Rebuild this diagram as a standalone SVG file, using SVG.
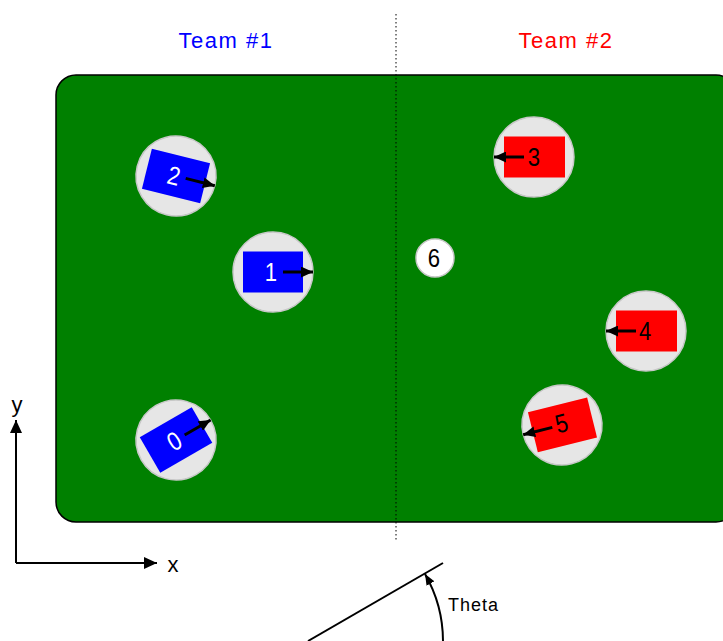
<svg xmlns="http://www.w3.org/2000/svg" width="723" height="641" viewBox="0 0 723 641">
<style>
.t{font-family:"Liberation Sans Narrow","Liberation Sans",Arial,sans-serif}
.team{font-size:22px;letter-spacing:1.5px;text-anchor:middle}
.body{fill:#e6e6e6;stroke:#c8c8c8;stroke-width:1.5}
.num{font-size:26px;text-anchor:middle;dominant-baseline:central}
.ra{stroke:#000;stroke-width:3;fill:none;marker-end:url(#rh)}
.ax{stroke:#000;stroke-width:2;fill:none}
</style>
<defs>
<marker id="rh" markerUnits="userSpaceOnUse" markerWidth="12" markerHeight="11" refX="12" refY="5.5" orient="auto" viewBox="0 0 12 11"><path d="M0,0 L12,5.5 L0,11 z" fill="#000"/></marker>
<marker id="ah" markerUnits="userSpaceOnUse" markerWidth="13" markerHeight="12" refX="13" refY="6" orient="auto" viewBox="0 0 13 12"><path d="M0,0 L13,6 L0,12 z" fill="#000"/></marker>
<marker id="th" markerUnits="userSpaceOnUse" markerWidth="11" markerHeight="9" refX="11" refY="4.5" orient="auto" viewBox="0 0 11 9"><path d="M0,0 L11,4.5 L0,9 z" fill="#000"/></marker>
</defs>
<rect x="0" y="0" width="723" height="641" fill="#fff"/>
<g id="field"><rect x="56" y="75" width="680" height="447" rx="20" ry="20" fill="#008000" stroke="#000" stroke-width="1.5"/></g>
<g id="midline"><line x1="396" y1="14" x2="396" y2="541" stroke="#000" stroke-width="1" stroke-dasharray="1.5,2.5"/></g>
<g id="team1"><text class="t team" x="226" y="48" fill="#0000ff">Team #1</text></g>
<g id="team2"><text class="t team" x="566" y="48" fill="#ff0000">Team #2</text></g>
<g id="robot2" transform="translate(176,176) rotate(14)">
<circle class="body" r="40"/><rect x="-30" y="-20.5" width="60" height="41" fill="#0000ff"/>
<text class="t num" transform="scale(0.85,1)" x="-2.5" y="0" fill="#fff">2</text><line class="ra" x1="10" y1="0" x2="40" y2="0"/></g>
<g id="robot1" transform="translate(273,272)">
<circle class="body" r="40"/><rect x="-30" y="-20.5" width="60" height="41" fill="#0000ff"/>
<text class="t num" transform="scale(0.85,1)" x="-2.5" y="0" fill="#fff">1</text><line class="ra" x1="10" y1="0" x2="40" y2="0"/></g>
<g id="robot0" transform="translate(176,440) rotate(-30)">
<circle class="body" r="40"/><rect x="-30" y="-20.5" width="60" height="41" fill="#0000ff"/>
<text class="t num" transform="scale(0.85,1)" x="-2.5" y="0" fill="#fff">0</text><line class="ra" x1="10" y1="0" x2="40" y2="0"/></g>
<g id="robot3" transform="translate(534,157)">
<circle class="body" r="40"/><rect x="-30" y="-20.5" width="61" height="41" fill="#ff0000"/>
<text class="t num" transform="scale(0.85,1)" x="0" y="0" fill="#000">3</text><line class="ra" x1="-10" y1="0" x2="-40" y2="0"/></g>
<g id="robot4" transform="translate(646,331)">
<circle class="body" r="40"/><rect x="-30" y="-20.5" width="61" height="41" fill="#ff0000"/>
<text class="t num" transform="scale(0.85,1)" x="-1" y="0" fill="#000">4</text><line class="ra" x1="-10" y1="0" x2="-40" y2="0"/></g>
<g id="robot5" transform="translate(562,425) rotate(-14)">
<circle class="body" r="40"/><rect x="-30" y="-20.5" width="61" height="41" fill="#ff0000"/>
<text class="t num" transform="scale(0.85,1)" x="0" y="-2" fill="#000">5</text><line class="ra" x1="-10" y1="0" x2="-40" y2="0"/></g>
<g id="ball6"><circle cx="435" cy="258" r="19" fill="#fff" stroke="#c8c8c8" stroke-width="1.5"/>
<text class="t num" transform="translate(434,258) scale(0.85,1)" x="0" y="0" fill="#000">6</text></g>
<g id="connectors">
<line class="ax" x1="16" y1="563" x2="16" y2="420" marker-end="url(#ah)"/>
<line class="ax" x1="16" y1="563" x2="157" y2="563" marker-end="url(#ah)"/>
<line class="ax" x1="308" y1="641" x2="443" y2="563" stroke-width="1.5"/>
<path class="ax" d="M443,641 A135,135 0 0 0 425,574" stroke-width="1.5" marker-end="url(#th)"/>
</g>
<g id="labels">
<text class="t" x="17" y="412" font-size="22" text-anchor="middle">y</text>
<text class="t" x="173" y="572" font-size="22" text-anchor="middle">x</text>
<text class="t" x="448" y="611" font-size="18" letter-spacing="1">Theta</text>
</g>
</svg>
